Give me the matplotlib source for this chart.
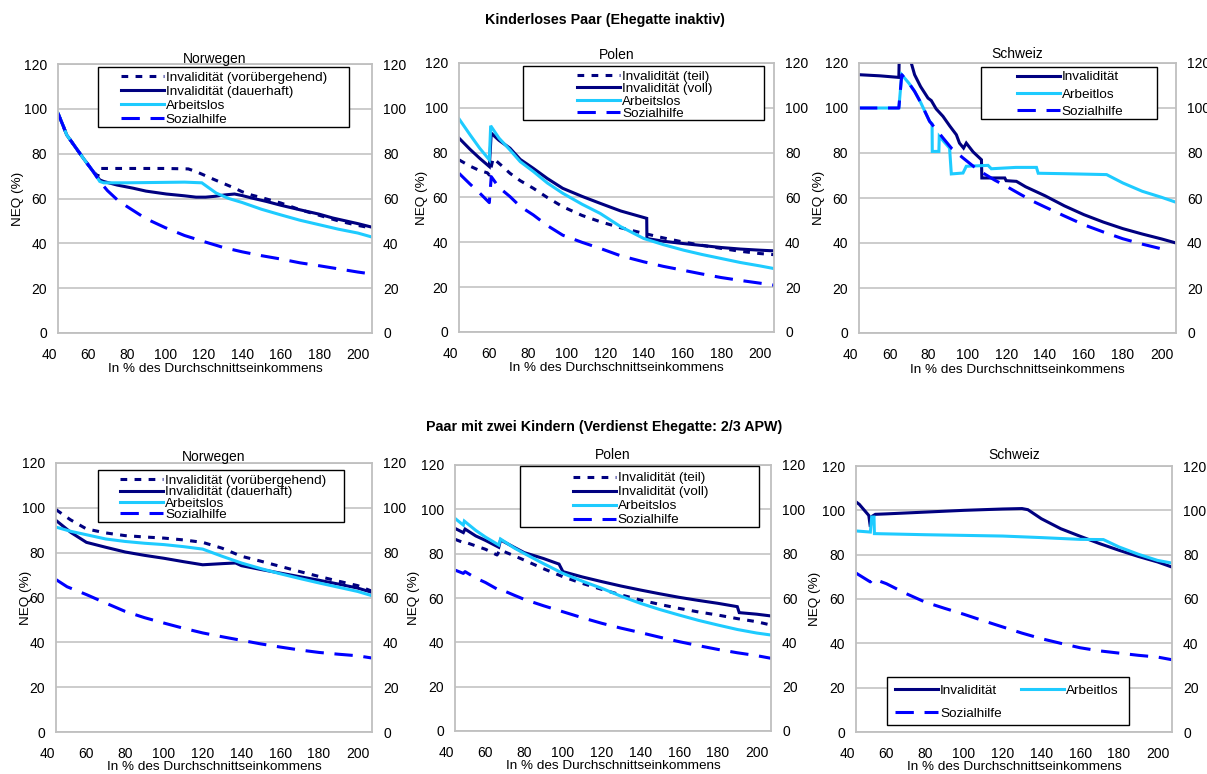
import matplotlib
matplotlib.use('Agg')
import matplotlib.pyplot as plt
from matplotlib.patches import Rectangle
from matplotlib.transforms import blended_transform_factory, ScaledTranslation

plt.rcParams['font.family'] = ['Liberation Sans', 'DejaVu Sans']

# ---------------- data ----------------
x_ticks = [40, 60, 80, 100, 120, 140, 160, 180, 200]
y_ticks = [0, 20, 40, 60, 80, 100, 120]

title_top = "Kinderloses Paar (Ehegatte inaktiv)"
title_bottom = "Paar mit zwei Kindern (Verdienst Ehegatte: 2/3 APW)"
country_titles = ["Norwegen", "Polen", "Schweiz", "Norwegen", "Polen", "Schweiz"]
xlabel_text = "In % des Durchschnittseinkommens"
ylabel_text = "NEQ (%)"

labels_no = ["Invalidität (vorübergehend)", "Invalidität (dauerhaft)", "Arbeitslos", "Sozialhilfe"]
labels_pl = ["Invalidität (teil)", "Invalidität (voll)", "Arbeitslos", "Sozialhilfe"]
labels_ch = ["Invalidität", "Arbeitlos", "Sozialhilfe"]

# Top row: Norwegen
no1_temp_x = [44.3, 47, 48.8, 53.1, 57.4, 62.6, 65, 66, 80, 100, 112, 116, 120, 125, 130, 135, 140, 145, 150, 160, 170, 180, 190, 200, 207.4]
no1_temp_y = [98, 92.4, 88.4, 83.2, 78, 72, 70, 73.4, 73.4, 73.4, 73.2, 72, 70.5, 68.6, 66.8, 65, 63, 61.5, 60.4, 58, 55, 52.5, 50, 48, 46.8]
no1_perm_x = [44.3, 47, 48.8, 53.1, 57.4, 62.6, 66, 68, 75, 83.3, 90, 100.6, 110, 116, 121, 126, 131, 136, 140, 145, 152.5, 160, 169.8, 180, 187, 200, 207.4]
no1_perm_y = [98, 92.4, 88.4, 83.2, 78, 72, 68.3, 67.6, 66, 64.6, 63.3, 62, 61.2, 60.6, 60.6, 61, 61.6, 62, 61.3, 60.2, 58.7, 57, 55, 53, 51.3, 48.8, 47.2]
no1_unemp_x = [44.3, 47, 48.8, 53.1, 57.4, 62.6, 66, 68, 80, 100, 110, 119, 126.5, 133, 140, 150, 160, 170, 180, 190, 200, 207.4]
no1_unemp_y = [98, 92.4, 88.4, 83.2, 78, 72, 67.6, 67, 67, 67.2, 67.3, 67, 62.4, 60, 58.2, 55.2, 52.7, 50.3, 48.3, 46.3, 44.6, 42.8]
no1_social_x = [44.3, 47, 48.8, 53.1, 57.4, 62.6, 66, 70, 75, 80, 90, 100, 110, 120, 130, 140, 150, 160, 170, 180, 190, 200, 207.4]
no1_social_y = [98, 92.4, 88.4, 83.2, 78, 72, 67.6, 63.5, 59.5, 56.5, 51, 47, 43.5, 40.8, 38.2, 36.2, 34.5, 33, 31.3, 30, 28.6, 27.2, 26.3]

# Top row: Polen
pl1_part_x = [44.3, 50, 55, 59, 60, 62, 66, 70.7, 76, 82.8, 90, 98, 108, 117.4, 128, 140, 145, 150, 160, 170, 180, 190, 200, 207.4]
pl1_part_y = [76.8, 74, 72, 71, 70, 77.5, 74.5, 70.8, 67.5, 64.1, 60, 55.9, 52, 49.2, 46.5, 44, 43, 42, 40.2, 38.7, 37.3, 36, 35, 34.5]
pl1_full_x = [44.3, 50, 55, 60, 61, 65, 70.7, 76, 82.8, 90, 98, 108, 117.4, 128, 141.5, 141.6, 150, 160, 170, 180, 190, 200, 207.4]
pl1_full_y = [86.5, 81.5, 77.5, 73.8, 88.7, 85.5, 82, 77, 73, 68.5, 64.1, 60.5, 57.4, 54, 50.7, 41.7, 40.5, 39.5, 38.6, 37.7, 37, 36.5, 36.2]
pl1_unemp_x = [44.3, 50, 55, 60, 60.7, 65, 70.7, 76, 82.8, 90, 98, 108, 117.4, 128, 140, 150, 160.6, 170, 180, 190, 200, 207.4]
pl1_unemp_y = [95.1, 88, 82, 76.8, 92, 86.5, 81.2, 76, 71.6, 66.5, 61.9, 57, 52.9, 47, 41.7, 39, 36.5, 34.6, 32.8, 31, 29.5, 28.3]
pl1_social_x = [44.3, 50, 55, 60, 61, 65, 70.7, 76, 82.8, 90, 98, 108, 117.4, 128, 140, 150, 160, 170, 180, 190, 200, 207.4]
pl1_social_y = [70.8, 66, 62, 57.7, 69.3, 64.5, 60.4, 56, 52.2, 47.5, 43.2, 40, 37.3, 34, 31.3, 29.3, 27.6, 25.9, 24.3, 23, 21.8, 20.9]

# Top row: Schweiz
ch1_inv_x = [44.3, 55, 64.8, 65.3, 71.2, 72.9, 76, 79.8, 81.5, 84, 87.5, 91, 94.4, 96, 98.1, 99.5, 103, 107.3, 107.5, 119.3, 120, 125.3, 130, 140, 150, 160, 170, 180, 190, 200, 207.4]
ch1_inv_y = [114.8, 114.3, 113.6, 136, 120, 114.8, 109.5, 104.4, 103.3, 99.6, 96.3, 92, 88.1, 84.4, 82.2, 84.4, 80.5, 77, 68.9, 68.9, 67.7, 67.4, 65, 61, 56.5, 52.6, 49.3, 46.4, 44, 41.8, 40]
ch1_unemp_x = [44.3, 64.8, 66.3, 70, 72.9, 76, 80.6, 81.9, 82, 85.4, 85.6, 90.9, 91.8, 97.8, 99.5, 110.7, 112.4, 125, 135.6, 136.5, 150, 171.7, 180, 190, 200, 207.4]
ch1_unemp_y = [100, 100, 114.8, 111, 107.4, 102.5, 94.1, 93, 80.7, 80.7, 87.4, 82.2, 70.7, 71.1, 74.1, 74.5, 73, 73.6, 73.6, 71, 70.8, 70.4, 66.7, 63, 60.3, 58.1]
ch1_social_x = [44.3, 64.8, 66.3, 70, 72.9, 76, 80.6, 87.5, 92, 97.8, 103, 108.1, 114, 120.1, 127, 133.9, 140, 150, 160, 170, 180, 190, 200, 203]
ch1_social_y = [100, 100, 114.8, 111, 107.4, 102.5, 94.1, 86.7, 82, 77.8, 74.2, 71.1, 68, 65.2, 61.8, 58.5, 56, 52, 48.1, 44.9, 41.9, 39.5, 37.4, 36.8]

# Bottom row: Norwegen
no2_temp_x = [44.3, 51.7, 60, 70, 80, 90, 100, 110, 120, 130, 140, 150, 160, 170, 180, 190, 200, 207.4]
no2_temp_y = [99.2, 94.7, 90.6, 88.8, 87.6, 87, 86.5, 85.7, 84.6, 82, 78.4, 76.2, 73.9, 71.6, 69.4, 67.3, 65.3, 62.8]
no2_perm_x = [44.3, 52, 60, 70, 80, 90, 100, 110, 120, 130, 137, 140, 150, 160, 170, 180, 190, 200, 207.4]
no2_perm_y = [94.4, 89, 84.6, 82.4, 80.3, 78.8, 77.5, 76, 74.6, 75.1, 75.4, 74.2, 72.5, 70.9, 69.3, 67.7, 66, 64.2, 62.3]
no2_unemp_x = [44.3, 52, 60, 70, 80, 90, 100, 110, 120, 130, 140, 150, 160, 170, 180, 190, 200, 207.4]
no2_unemp_y = [91.4, 89.5, 88, 86.1, 85, 84.2, 83.6, 82.7, 81.6, 78.4, 75.4, 72.9, 70.6, 68.5, 66.5, 64.6, 62.7, 60.8]
no2_social_x = [44.3, 50, 60, 70, 80, 90, 100, 110, 120, 130, 140, 150, 160, 170, 180, 190, 200, 207.4]
no2_social_y = [68, 64.8, 61.3, 57.5, 53.8, 51, 48.6, 46.3, 44.2, 42.5, 40.9, 39.3, 37.9, 36.6, 35.5, 34.7, 34, 33]

# Bottom row: Polen
pl2_part_x = [44.3, 48.6, 49.5, 55, 60, 66, 67.5, 75, 80, 90, 100, 110, 120, 130, 140, 150, 160, 170, 180, 190, 200, 207.4]
pl2_part_y = [86.5, 85, 85.2, 83.5, 82, 79.4, 81.7, 79, 77.1, 73.2, 69.6, 66.6, 63.9, 61.4, 59.1, 57.1, 55.3, 53.7, 52.3, 50.7, 49.3, 47.8]
pl2_full_x = [44.3, 48.6, 49.5, 55, 60, 66.9, 67.8, 75, 80, 90, 98, 100, 110, 120, 130, 140, 150, 160, 170, 180, 190, 191, 200, 207.4]
pl2_full_y = [91.4, 89.5, 91.1, 88, 86, 82.9, 86.2, 82.8, 80.5, 77.8, 75.3, 71.9, 69.5, 67.4, 65.4, 63.6, 61.9, 60.3, 58.9, 57.6, 56.1, 53.4, 52.7, 51.9]
pl2_unemp_x = [44.3, 48.6, 49.1, 55, 60, 66.9, 67.8, 75, 80, 90, 100, 110, 120, 130, 140, 150, 160, 170, 180, 190, 200, 207.4]
pl2_unemp_y = [95.9, 92.9, 94.7, 90.5, 87.5, 83.9, 86.6, 82.5, 80.1, 75.5, 71.1, 67.6, 64.4, 60.8, 57.6, 54.8, 52.3, 49.9, 47.8, 45.8, 44.2, 43.3]
pl2_social_x = [44.3, 48.6, 49.5, 55, 60, 66.9, 67.8, 75, 80, 90, 100, 110, 120, 130, 140, 150, 160, 170, 180, 190, 200, 207.4]
pl2_social_y = [72.6, 71.1, 71.9, 69, 67, 63.6, 63.9, 61.2, 59.4, 56.5, 53.8, 51.1, 48.6, 46.4, 44.4, 42.3, 40.3, 38.5, 36.8, 35.3, 34, 32.8]

# Bottom row: Schweiz
ch2_inv_x = [44.3, 46, 50.9, 51.7, 52.6, 54.3, 60, 80, 100, 120, 130, 133, 140, 150, 160, 170, 180, 190, 200, 207.4]
ch2_inv_y = [103.8, 102.7, 97.7, 92.5, 97.3, 98.2, 98.4, 99.2, 100, 100.6, 100.8, 100.3, 96.2, 91.7, 88.3, 85, 82, 79.2, 76.7, 74.4]
ch2_unemp_x = [44.3, 51.7, 52.4, 53.6, 53.8, 80, 120, 140, 160, 172, 180, 190, 200, 207.4]
ch2_unemp_y = [90.7, 90.2, 97, 97, 89.5, 89, 88.4, 87.7, 86.9, 86.8, 83.5, 80.2, 77.4, 76.2]
ch2_social_x = [44.3, 51.7, 53, 60, 70, 80, 90, 100, 110, 120, 130, 140, 150, 160, 170, 180, 190, 200, 207.4]
ch2_social_y = [71.7, 67.7, 69.2, 66.9, 62.5, 58.6, 55.8, 53.1, 50.2, 47.4, 44.6, 42.1, 40, 38, 36.6, 35.6, 34.6, 33.8, 32.6]

# ---------------- styles ----------------
NAVY = '#000080'
CYAN = '#1ECBFF'
BLUE = '#0000FF'
GRAY = '#BFBFBF'
LW = 2.2
st_dot = dict(color=NAVY, lw=LW, dashes=(2.2, 2.4))
st_inv = dict(color=NAVY, lw=LW)
st_une = dict(color=CYAN, lw=LW)
st_soc = dict(color=BLUE, lw=LW, dashes=(6.0, 3.5))

W, H = 1207, 774
fig = plt.figure(figsize=(W / 100, H / 100), dpi=100)

# pixel boxes (x0, y0, x1, y1)
boxes = [(58, 64, 372, 333), (459, 63, 774, 332), (859, 63, 1176, 333),
         (56, 463, 372, 732), (455, 465, 771, 731), (856, 466, 1172, 732)]

panels = [
    [(no1_temp_x, no1_temp_y, st_dot), (no1_perm_x, no1_perm_y, st_inv), (no1_unemp_x, no1_unemp_y, st_une), (no1_social_x, no1_social_y, st_soc)],
    [(pl1_part_x, pl1_part_y, st_dot), (pl1_full_x, pl1_full_y, st_inv), (pl1_unemp_x, pl1_unemp_y, st_une), (pl1_social_x, pl1_social_y, st_soc)],
    [(ch1_inv_x, ch1_inv_y, st_inv), (ch1_unemp_x, ch1_unemp_y, st_une), (ch1_social_x, ch1_social_y, st_soc)],
    [(no2_temp_x, no2_temp_y, st_dot), (no2_perm_x, no2_perm_y, st_inv), (no2_unemp_x, no2_unemp_y, st_une), (no2_social_x, no2_social_y, st_soc)],
    [(pl2_part_x, pl2_part_y, st_dot), (pl2_full_x, pl2_full_y, st_inv), (pl2_unemp_x, pl2_unemp_y, st_une), (pl2_social_x, pl2_social_y, st_soc)],
    [(ch2_inv_x, ch2_inv_y, st_inv), (ch2_unemp_x, ch2_unemp_y, st_une), (ch2_social_x, ch2_social_y, st_soc)],
]
panel_labels = [labels_no, labels_pl, labels_ch, labels_no, labels_pl, labels_ch]

# legend box rect (axes coords x0, y0, x1, y1), handle start x, first row centre y, labelspacing, ncol
leg_specs = [
    ((0.127, 0.766, 0.927, 0.989), 0.200, 0.957, 0.10, 1),
    ((0.203, 0.788, 0.968, 0.989), 0.374, 0.959, 0.00, 1),
    ((0.385, 0.792, 0.940, 0.985), 0.497, 0.957, 0.36, 1),
    ((0.133, 0.780, 0.911, 0.974), 0.203, 0.943, -0.08, 1),
    ((0.206, 0.767, 0.962, 0.996), 0.372, 0.960, 0.12, 1),
    ((0.098, 0.026, 0.864, 0.208), 0.123, 0.164, 0.75, 2),
]
ylab_x = [-0.108, -0.098, -0.107, -0.076, -0.111, -0.111]
title_off = [5, 8, 9, 6, 10, 11]

FS = 9.7
for i, (x0, y0, x1, y1) in enumerate(boxes):
    ax = fig.add_axes([x0 / W, 1 - y1 / H, (x1 - x0) / W, (y1 - y0) / H])
    handles = []
    for xs, ys, st in panels[i]:
        ln, = ax.plot(xs, ys, solid_joinstyle='miter', **st)
        handles.append(ln)
    ax.set_xlim(44.3, 207.4)
    ax.set_ylim(0, 120)
    ax.set_xticks(x_ticks[1:])
    ax.set_yticks(y_ticks)
    ax.tick_params(axis='both', length=0, labelsize=10)
    ax.tick_params(axis='x', pad=11)
    ax.tick_params(axis='y', pad=8, labelright=True)
    ax.grid(axis='y', color=GRAY, lw=1.1)
    ax.set_axisbelow(True)
    for sp in ax.spines.values():
        sp.set_color(GRAY)
        sp.set_linewidth(1.3)
    # label "40" at the left of the frame
    tr = blended_transform_factory(ax.transData, ax.transAxes) + ScaledTranslation(0, -11 / 72, fig.dpi_scale_trans)
    ax.text(x_ticks[0], 0, str(x_ticks[0]), transform=tr, ha='center', va='top', fontsize=10, clip_on=False)
    ax.set_xlabel(xlabel_text, fontsize=FS)
    ax.xaxis.set_label_coords(0.5, -0.113 if i < 3 else -0.108)
    ax.set_ylabel(ylabel_text, fontsize=FS)
    ax.yaxis.set_label_coords(ylab_x[i], 0.5)
    ax.text(0.5, 1 + title_off[i] / 269, country_titles[i], transform=ax.transAxes,
            ha='center', va='center', fontsize=10)
    # legend
    (rx0, ry0, rx1, ry1), hx, hy, lsp, ncol = leg_specs[i]
    ax.add_patch(Rectangle((rx0, ry0), rx1 - rx0, ry1 - ry0, transform=ax.transAxes,
                           facecolor='white', edgecolor='black', lw=1.0, zorder=5, clip_on=False))
    labs = panel_labels[i]
    if ncol == 2:
        hh = [handles[0], handles[2], handles[1]]
        ll = [labs[0], labs[2], labs[1]]
    else:
        hh, ll = handles, labs
    leg = ax.legend(hh, ll, loc='upper left', bbox_to_anchor=(hx, hy + 3.8 / 269), frameon=False,
                    fontsize=FS, ncol=ncol, handlelength=3.2, handletextpad=0.15,
                    labelspacing=lsp, borderpad=0, borderaxespad=0, columnspacing=1.45)
    leg.set_zorder(6)

fig.text(605 / W, 1 - 20 / H, title_top, ha='center', va='center', fontsize=10.3, fontweight='bold')
fig.text(604 / W, 1 - 427 / H, title_bottom, ha='center', va='center', fontsize=10.3, fontweight='bold')

fig.savefig('out.png', dpi=100)
